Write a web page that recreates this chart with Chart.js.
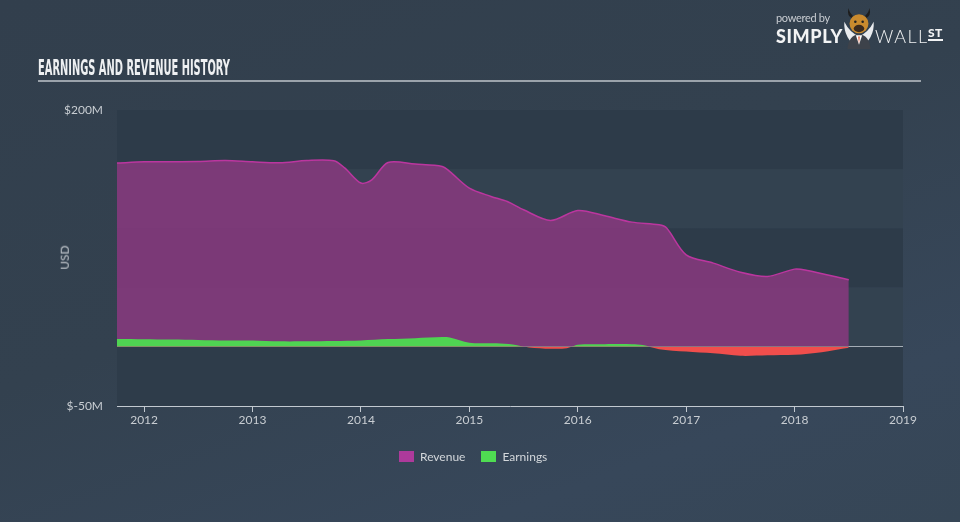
<!DOCTYPE html>
<html>
<head>
<meta charset="utf-8">
<script src="https://cdn.jsdelivr.net/npm/chart.js@4.4.0/dist/chart.umd.min.js"></script>
<style>
  html,body{margin:0;padding:0;}
  body{width:960px;height:522px;overflow:hidden;position:relative;
    background:linear-gradient(160deg,#323f4d 0%,#33414f 45%,#37475a 80%,#364656 100%);
    font-family:Lato,"Open Sans",sans-serif;}
  #wrap{position:absolute;left:0;top:0;width:960px;height:522px;}
  #title{position:absolute;left:38px;top:58px;font-family:"DejaVu Sans Condensed","Liberation Sans Narrow",sans-serif;
    font-weight:bold;font-size:21px;line-height:21px;color:#eef0f2;white-space:nowrap;transform-origin:left top;}
  #rule{position:absolute;left:38px;top:80px;width:883px;height:2px;background:#9ba3ab;}
  #usd{position:absolute;left:52px;top:250px;transform:rotate(-90deg);transform-origin:center;font-size:12px;color:#c3c8ce;}
  #legend{position:absolute;top:449px;left:399px;font-size:12px;color:#d3d7db;display:flex;align-items:center;}
  .box{display:inline-block;width:15px;height:11px;margin-right:6px;}
  .item{display:flex;align-items:center;margin-right:16px;}
  #logo{position:absolute;left:776px;top:10px;color:#fff;}
  #pb{position:absolute;left:0;top:1px;font-size:11px;color:#c9cdd2;white-space:nowrap;letter-spacing:-0.3px;}
  #simply{position:absolute;left:0;top:15px;font-size:18px;font-weight:900;letter-spacing:0.6px;white-space:nowrap;color:#f2f3f4;}
  #wall{position:absolute;left:99px;top:15px;font-size:18px;font-weight:300;letter-spacing:1.5px;white-space:nowrap;color:#f2f3f4;}
  #st{position:absolute;left:152px;top:17px;font-size:12px;font-weight:900;letter-spacing:0.5px;border-bottom:2px solid #f2f3f4;line-height:11px;padding-bottom:1px;color:#f2f3f4;}
  #bull{position:absolute;left:67px;top:-3px;}
</style>
</head>
<body>
<div id="wrap"><canvas id="c" width="960" height="522"></canvas></div>
<div id="title">EARNINGS AND REVENUE HISTORY</div>
<div id="rule"></div>
<div id="usd">USD</div>
<div id="legend">
  <span class="item"><span class="box" style="background:#ad3a9b"></span>Revenue</span>
  <span class="item"><span class="box" style="background:#4fdc52"></span>Earnings</span>
</div>
<div id="logo">
  <div id="pb">powered by</div>
  <div id="simply">SIMPLY</div>
  <svg id="bull" width="32" height="42" viewBox="0 0 30 40">
    <path d="M1 14 Q6 24 15 28 Q24 24 29 14 Q30 30 15 40 Q0 30 1 14Z" fill="#e9ebee"/>
    <path d="M4 40 Q5 27 15 26 Q25 27 26 40Z" fill="#3d424a"/>
    <path d="M12 27 L15 36 L18 27Z" fill="#fff"/>
    <path d="M14.3 28 L15 35 L15.7 28Z" fill="#d9441c"/>
    <path d="M5 1 Q3 9 9 11 L9 8 Q6 6 5 1Z" fill="#1e1e1e"/>
    <path d="M25 1 Q27 9 21 11 L21 8 Q24 6 25 1Z" fill="#1e1e1e"/>
    <ellipse cx="15" cy="16" rx="9" ry="9" fill="#c98a2e"/>
    <ellipse cx="15" cy="20.5" rx="5" ry="3.5" fill="#3b2a1e"/>
    <circle cx="11.5" cy="14" r="1.2" fill="#222"/>
    <circle cx="18.5" cy="14" r="1.2" fill="#222"/>
  </svg>
  <div id="wall">WALL</div>
  <div id="st">ST</div>
</div>
<script>
// ---- data ----
const revenueYears = [2011.75,2012.0,2012.5,2012.75,2013.0,2013.25,2013.5,2013.75,2013.85,2014.0,2014.1,2014.25,2014.5,2014.75,2014.82,2015.0,2015.2,2015.35,2015.5,2015.75,2016.0,2016.25,2016.5,2016.75,2016.82,2017.0,2017.25,2017.5,2017.75,2018.0,2018.12,2018.5];
const revenueValues = [155.2,156.2,156.5,157.3,156.2,155.4,157.3,157.1,151.1,138.3,141.0,155.7,154.3,152.3,148.0,134.0,127.0,122.7,115.7,106.7,115.1,110.6,105.3,103.0,100.3,77.7,70.7,63.0,59.4,65.6,64.4,56.6];
const earningsYears = [2011.75,2012.0,2012.5,2012.75,2013.0,2013.25,2013.5,2013.75,2014.0,2014.25,2014.5,2014.75,2014.82,2015.0,2015.25,2015.4,2015.55,2015.75,2015.9,2016.0,2016.25,2016.5,2016.6,2016.75,2017.0,2017.25,2017.5,2017.75,2018.0,2018.25,2018.5];
const earningsValues = [6.5,6.3,5.8,5.3,5.3,4.6,4.6,4.8,5.3,6.5,7.3,8.2,7.8,3.4,3.0,2.0,-0.5,-1.6,-1.2,1.8,2.2,2.2,1.5,-2.0,-4.0,-5.5,-7.6,-7.2,-6.8,-4.5,-0.8];
const yearTicks = [2012,2013,2014,2015,2016,2017,2018,2019];
const yTickLabels = {200:'$200M', '-50':'$-50M'};

// fit title width to reference
(function(){
  const t = document.getElementById('title');
  const w = t.getBoundingClientRect().width;
  t.style.transform = 'scaleX(' + (192 / w) + ')';
})();

const toPts = (xs, ys) => xs.map((x,i)=>({x:x, y:ys[i]}));

const bandPlugin = {
  id:'bands',
  beforeDraw(chart){
    const {ctx, chartArea:a, scales:{y}} = chart;
    const edges = [200,150,100,50,0,-50];
    const cols = ['#2d3b49','#334250','#2d3b49','#334250','#2e3c4a'];
    for(let i=0;i<edges.length-1;i++){
      const t = y.getPixelForValue(edges[i]), b = y.getPixelForValue(edges[i+1]);
      ctx.fillStyle = cols[i];
      ctx.fillRect(a.left, t, a.right-a.left, b-t);
    }
  }
};

new Chart(document.getElementById('c'), {
  type:'line',
  data:{datasets:[
    {label:'Earnings', data:toPts(earningsYears,earningsValues), borderWidth:0, pointRadius:0,
     borderColor:'rgba(0,0,0,0)', tension:0.3,
     fill:{target:'origin', above:'#4fd452', below:'#f04e4c'}},
    {label:'Revenue', data:toPts(revenueYears,revenueValues), borderWidth:1.5, pointRadius:0,
     borderColor:'#bb369f', backgroundColor:'rgba(136,57,127,0.86)', tension:0.3, fill:'origin'}
  ]},
  options:{
    responsive:false, animation:false,
    layout:{padding:{left:0,right:57,top:110,bottom:86}},
    plugins:{legend:{display:false}, tooltip:{enabled:false}},
    scales:{
      x:{type:'linear', min:2011.75, max:2019,
        afterBuildTicks(s){ s.ticks = yearTicks.map(v=>({value:v})); },
        afterFit(s){ s.height = 30; },
        border:{display:true, color:'#c2c9d0', width:1},
        grid:{drawOnChartArea:false, drawTicks:true, tickLength:6, color:'#c2c9d0'},
        ticks:{color:'#c8cdd2', font:{family:'Lato', size:12}, padding:1, maxRotation:0,
          callback:v=>String(v)}
      },
      y:{min:-50, max:200,
        afterBuildTicks(s){ s.ticks = [200,150,100,50,0,-50].map(v=>({value:v})); },
        afterFit(s){ s.width = 117; },
        border:{display:false},
        grid:{drawTicks:false, color:ctx=> ctx.tick && ctx.tick.value===0 ? '#a4adb6' : 'rgba(0,0,0,0)', lineWidth:1},
        ticks:{color:'#c8cdd2', font:{family:'Lato', size:12}, padding:14,
          callback:v=> yTickLabels[v] || ''}
      }
    }
  },
  plugins:[bandPlugin]
});
</script>
</body>
</html>
